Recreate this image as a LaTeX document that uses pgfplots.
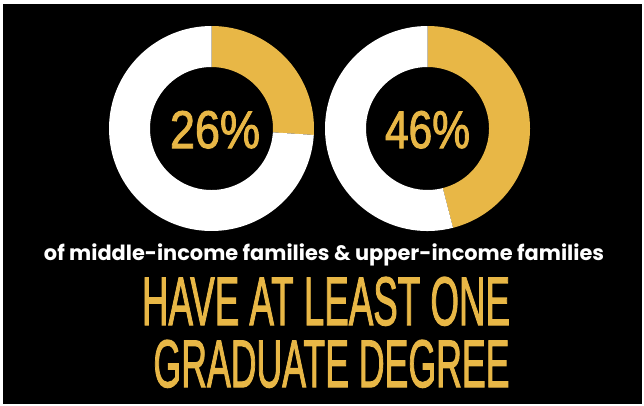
\documentclass[border=0pt]{standalone}
\usepackage{pgfplots}
\pgfplotsset{compat=1.18}
\usepackage{pgfplotstable}
\usepackage{fontspec}
\usepackage{graphicx}
\setmainfont{Liberation Sans}
\newfontfamily\condfont{Liberation Sans}[FakeBold=2]
\newfontfamily\subfont{Poppins}
\definecolor{gold}{RGB}{232,183,70}
\pgfplotstableread{
cx cy value
211.5 128.5 26
427.5 128.5 46
}\donuts
\begin{document}
\begin{tikzpicture}
\pgfplotstablegetelem{0}{cx}\of\donuts \let\cxA\pgfplotsretval
\pgfplotstablegetelem{0}{cy}\of\donuts \let\cyA\pgfplotsretval
\pgfplotstablegetelem{0}{value}\of\donuts \let\vA\pgfplotsretval
\pgfplotstablegetelem{1}{cx}\of\donuts \let\cxB\pgfplotsretval
\pgfplotstablegetelem{1}{cy}\of\donuts \let\cyB\pgfplotsretval
\pgfplotstablegetelem{1}{value}\of\donuts \let\vB\pgfplotsretval
\pgfmathsetmacro\eA{90-3.6*\vA}
\pgfmathsetmacro\eB{90-3.6*\vB}
\begin{axis}[width=644pt,height=405pt,scale only axis,xmin=0,xmax=644,ymin=0,ymax=405,
  y dir=reverse,hide axis,clip=false,enlargelimits=false]
\fill[white] (axis cs:0,0) rectangle (axis cs:644,405);
\fill[black] (axis cs:3,4) rectangle (axis cs:642,404);
% donut 1
\fill[gold] (axis cs:\cxA,\cyA) ++(90:102.5pt) arc[start angle=90,end angle=\eA,radius=102.5pt]
  -- ++(\eA:-41pt) arc[start angle=\eA,end angle=90,radius=61.5pt] -- cycle;
\fill[white] (axis cs:\cxA,\cyA) ++(\eA:102.5pt) arc[start angle=\eA,end angle=-270,radius=102.5pt]
  -- ++(-270:-41pt) arc[start angle=-270,end angle=\eA,radius=61.5pt] -- cycle;
% donut 2
\fill[gold] (axis cs:\cxB,\cyB) ++(90:102.5pt) arc[start angle=90,end angle=\eB,radius=102.5pt]
  -- ++(\eB:-41pt) arc[start angle=\eB,end angle=90,radius=61.5pt] -- cycle;
\fill[white] (axis cs:\cxB,\cyB) ++(\eB:102.5pt) arc[start angle=\eB,end angle=-270,radius=102.5pt]
  -- ++(-270:-41pt) arc[start angle=-270,end angle=\eB,radius=61.5pt] -- cycle;
% labels
\node[gold,anchor=base,inner sep=0] at (axis cs:215,148) {\resizebox{90pt}{37pt}{\condfont\vA\%}};
\node[gold,anchor=base,inner sep=0] at (axis cs:427.5,148) {\resizebox{85pt}{37pt}{\condfont\vB\%}};
\node[white,anchor=base,inner sep=0] at (axis cs:324,260.5) {\resizebox{560pt}{!}{\subfont\bfseries of middle-income families \& upper-income families}};
\node[gold,anchor=base,inner sep=0] at (axis cs:326,325) {\resizebox{368pt}{48pt}{\condfont HAVE AT LEAST ONE}};
\node[gold,anchor=base,inner sep=0] at (axis cs:331.5,387) {\resizebox{356pt}{47pt}{\condfont GRADUATE DEGREE}};
\end{axis}
\end{tikzpicture}
\end{document}
